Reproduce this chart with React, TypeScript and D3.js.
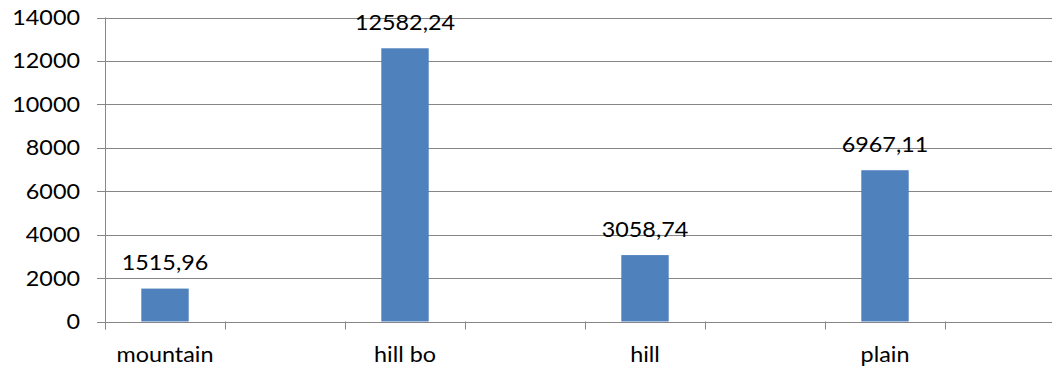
import React from "react";
import * as d3 from "d3";

// Column chart data: eight category slots, four of them filled and labelled
const categories = ["mountain", "", "hill bo", "", "hill", "", "plain", ""];
const values: (number | null)[] = [1515.96, null, 12582.24, null, 3058.74, null, 6967.11, null];
const valueLabels = ["1515,96", "", "12582,24", "", "3058,74", "", "6967,11", ""];
const yTicks = [0, 2000, 4000, 6000, 8000, 10000, 12000, 14000];

const W = 1052;
const H = 369;
const left = 105;
const right = 1065;
const top = 17.5;
const bottom = 321.5;
const FONT = "Lato, 'Open Sans', sans-serif";
const SX = 1.14;
const BAR = "#4F81BD";
const GRID = "#868686";

export default function App() {
  const x = d3.scaleBand<number>().domain(d3.range(categories.length)).range([left, right]).padding(0);
  const y = d3.scaleLinear().domain([0, 14000]).range([bottom, top]);
  const barW = x.bandwidth() * 0.395;
  const boundaries = d3.range(categories.length + 1).map((i) => left + i * x.step());

  const label = (tx: number, ty: number, s: string, anchor: string, key: string) => (
    <text
      key={key}
      transform={`translate(${tx},${ty}) scale(${SX},1)`}
      textAnchor={anchor}
      fontFamily={FONT}
      fontSize={20.5}
      fill="#000"
    >
      {s}
    </text>
  );

  return (
    <svg
      width={W}
      height={H}
      style={{ position: "absolute", left: 0, top: 0, background: "#fff" }}
    >
      {/* horizontal gridlines with their left tick stubs */}
      {yTicks.map((t) => (
        <line
          key={"g" + t}
          x1={left - 8}
          x2={W}
          y1={Math.round(y(t)) + 0.5}
          y2={Math.round(y(t)) + 0.5}
          stroke={GRID}
          strokeWidth={1}
        />
      ))}
      {/* value axis line */}
      <line x1={left + 0.5} x2={left + 0.5} y1={top} y2={bottom + 8} stroke={GRID} />
      {/* category tick marks */}
      {boundaries.map((b, i) => (
        <line
          key={"t" + i}
          x1={Math.round(b) + 0.5}
          x2={Math.round(b) + 0.5}
          y1={bottom}
          y2={bottom + 8}
          stroke={GRID}
        />
      ))}
      {/* bars */}
      {values.map((v, i) =>
        v == null ? null : (
          <rect
            key={"b" + i}
            x={x(i)! + x.bandwidth() / 2 - barW / 2}
            y={y(v)}
            width={barW}
            height={y(0) - y(v)}
            fill={BAR}
          />
        )
      )}
      {/* value labels */}
      {values.map((v, i) =>
        v == null ? null : label(x(i)! + x.bandwidth() / 2, y(v) - 18.5, valueLabels[i], "middle", "v" + i)
      )}
      {/* y tick labels */}
      {yTicks.map((t) => label(80, y(t) + 7.5, String(t), "end", "y" + t))}
      {/* category labels */}
      {categories.map((c, i) =>
        c ? label(x(i)! + x.bandwidth() / 2, 362, c, "middle", "c" + i) : null
      )}
    </svg>
  );
}
